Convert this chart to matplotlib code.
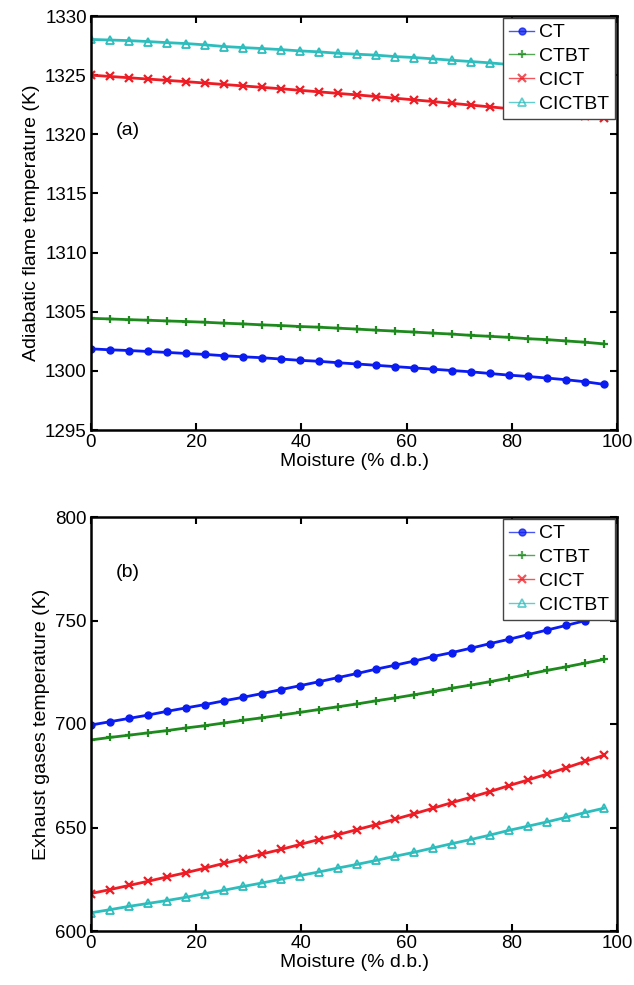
import matplotlib
matplotlib.use("Agg")
import matplotlib.pyplot as plt

plt.rcParams['font.family'] = ['Liberation Sans', 'DejaVu Sans']

moisture = [0, 3.6, 7.2, 10.8, 14.4, 18.1, 21.7, 25.3, 28.9, 32.5, 36.1, 39.7, 43.3, 46.9,
            50.6, 54.2, 57.8, 61.4, 65.0, 68.6, 72.2, 75.8, 79.4, 83.0, 86.7, 90.3, 93.9, 97.5]

# (a) Adiabatic flame temperature (K)
flame_CT = [1301.86, 1301.78, 1301.72, 1301.64, 1301.56, 1301.47, 1301.39, 1301.28, 1301.19,
            1301.11, 1301.00, 1300.89, 1300.81, 1300.69, 1300.58, 1300.47, 1300.36, 1300.25,
            1300.14, 1300.03, 1299.92, 1299.78, 1299.64, 1299.53, 1299.39, 1299.25, 1299.08, 1298.86]
flame_CTBT = [1304.44, 1304.39, 1304.33, 1304.28, 1304.22, 1304.17, 1304.11, 1304.03, 1303.97,
              1303.89, 1303.83, 1303.75, 1303.69, 1303.61, 1303.53, 1303.44, 1303.36, 1303.28,
              1303.19, 1303.11, 1303.00, 1302.92, 1302.83, 1302.72, 1302.64, 1302.53, 1302.42, 1302.28]
flame_CICT = [1325.00, 1324.89, 1324.78, 1324.67, 1324.56, 1324.45, 1324.33, 1324.21, 1324.09,
              1323.97, 1323.85, 1323.72, 1323.59, 1323.46, 1323.33, 1323.19, 1323.05, 1322.91,
              1322.77, 1322.62, 1322.47, 1322.32, 1322.17, 1322.02, 1321.87, 1321.71, 1321.55, 1321.39]
flame_CICTBT = [1328.02, 1327.97, 1327.92, 1327.84, 1327.75, 1327.67, 1327.56, 1327.42, 1327.33,
                1327.25, 1327.16, 1327.05, 1326.97, 1326.85, 1326.77, 1326.69, 1326.57, 1326.49,
                1326.38, 1326.26, 1326.15, 1326.04, 1325.90, 1325.78, 1325.66, 1325.54, 1325.42, 1325.30]

# (b) Exhaust gases temperature (K)
exhaust_CT = [699.5, 701.1, 702.7, 704.3, 706.1, 707.8, 709.4, 711.2, 712.9, 714.7, 716.6, 718.5,
              720.4, 722.4, 724.4, 726.5, 728.4, 730.4, 732.6, 734.5, 736.6, 738.8, 740.9, 743.1,
              745.4, 747.6, 749.9, 752.2]
exhaust_CTBT = [692.3, 693.5, 694.6, 695.7, 696.8, 698.1, 699.2, 700.5, 701.8, 703.0, 704.3, 705.6,
                707.0, 708.3, 709.7, 711.2, 712.6, 714.1, 715.7, 717.3, 718.8, 720.4, 722.2, 724.0,
                725.9, 727.6, 729.4, 731.2]
exhaust_CICT = [618.1, 620.0, 622.0, 624.0, 626.1, 628.2, 630.4, 632.7, 634.9, 637.2, 639.4, 641.8,
                644.2, 646.5, 649.0, 651.4, 654.0, 656.6, 659.3, 662.0, 664.6, 667.3, 670.2, 672.9,
                675.8, 678.8, 681.9, 684.9]
exhaust_CICTBT = [608.8, 610.3, 611.9, 613.3, 614.7, 616.3, 618.1, 619.7, 621.5, 623.2, 625.0, 626.8,
                  628.5, 630.4, 632.2, 634.1, 636.1, 638.0, 640.1, 642.2, 644.2, 646.3, 648.6, 650.6,
                  652.7, 654.9, 657.2, 659.3]

labels = ['CT', 'CTBT', 'CICT', 'CICTBT']
colors = ['#0a1cf0', '#1e8a1e', '#ee1c24', '#2ebdbd']
markers = ['o', '+', 'x', '^']

W, H = 634, 985
fig = plt.figure(figsize=(W / 100, H / 100), dpi=100)

def add_ax(left, top, right, bottom):
    return fig.add_axes([left / W, 1 - bottom / H, (right - left) / W, (bottom - top) / H])

ax1 = add_ax(91, 16, 617, 430)
ax2 = add_ax(91, 517, 617, 931)

def draw(ax, series, ylim, yticks, ylabel, tag, tagy):
    for vals, lab, c, m in zip(series, labels, colors, markers):
        if m == '^':
            ax.plot(moisture, vals, color=c, lw=2, marker=m, ms=5.5, mfc='none', mew=1.3, label=lab)
        elif m == 'o':
            ax.plot(moisture, vals, color=c, lw=2, marker=m, ms=5, label=lab)
        else:
            ax.plot(moisture, vals, color=c, lw=2, marker=m, ms=6, mew=1.6, label=lab)
    ax.set_xlim(0, 100)
    ax.set_ylim(*ylim)
    ax.set_yticks(yticks)
    ax.set_xticks([0, 20, 40, 60, 80, 100])
    ax.tick_params(direction='in', top=True, right=True, length=5, width=1.5, labelsize=13.5, pad=3)
    for s in ax.spines.values():
        s.set_linewidth(1.8)
    ax.set_xlabel('Moisture (% d.b.)', fontsize=14, labelpad=1)
    ax.set_ylabel(ylabel, fontsize=14, labelpad=4)
    ax.text(7, tagy, tag, fontsize=14, ha='center', va='center')
    leg = ax.legend(loc='upper right', fontsize=14, frameon=True, fancybox=False, framealpha=1,
                    borderaxespad=0.1, handlelength=1.3, handletextpad=0.25,
                    labelspacing=0.32, borderpad=0.3)
    leg.get_frame().set_edgecolor('#444444')
    leg.get_frame().set_linewidth(1.0)
    for h in leg.get_lines():
        h.set_linewidth(1.0)
        h.set_alpha(0.75)

draw(ax1, [flame_CT, flame_CTBT, flame_CICT, flame_CICTBT], (1295, 1330),
     [1295, 1300, 1305, 1310, 1315, 1320, 1325, 1330],
     'Adiabatic flame temperature (K)', '(a)', 1320.3)
draw(ax2, [exhaust_CT, exhaust_CTBT, exhaust_CICT, exhaust_CICTBT], (600, 800),
     [600, 650, 700, 750, 800],
     'Exhaust gases temperature (K)', '(b)', 773)

fig.savefig('out.png', dpi=100)
